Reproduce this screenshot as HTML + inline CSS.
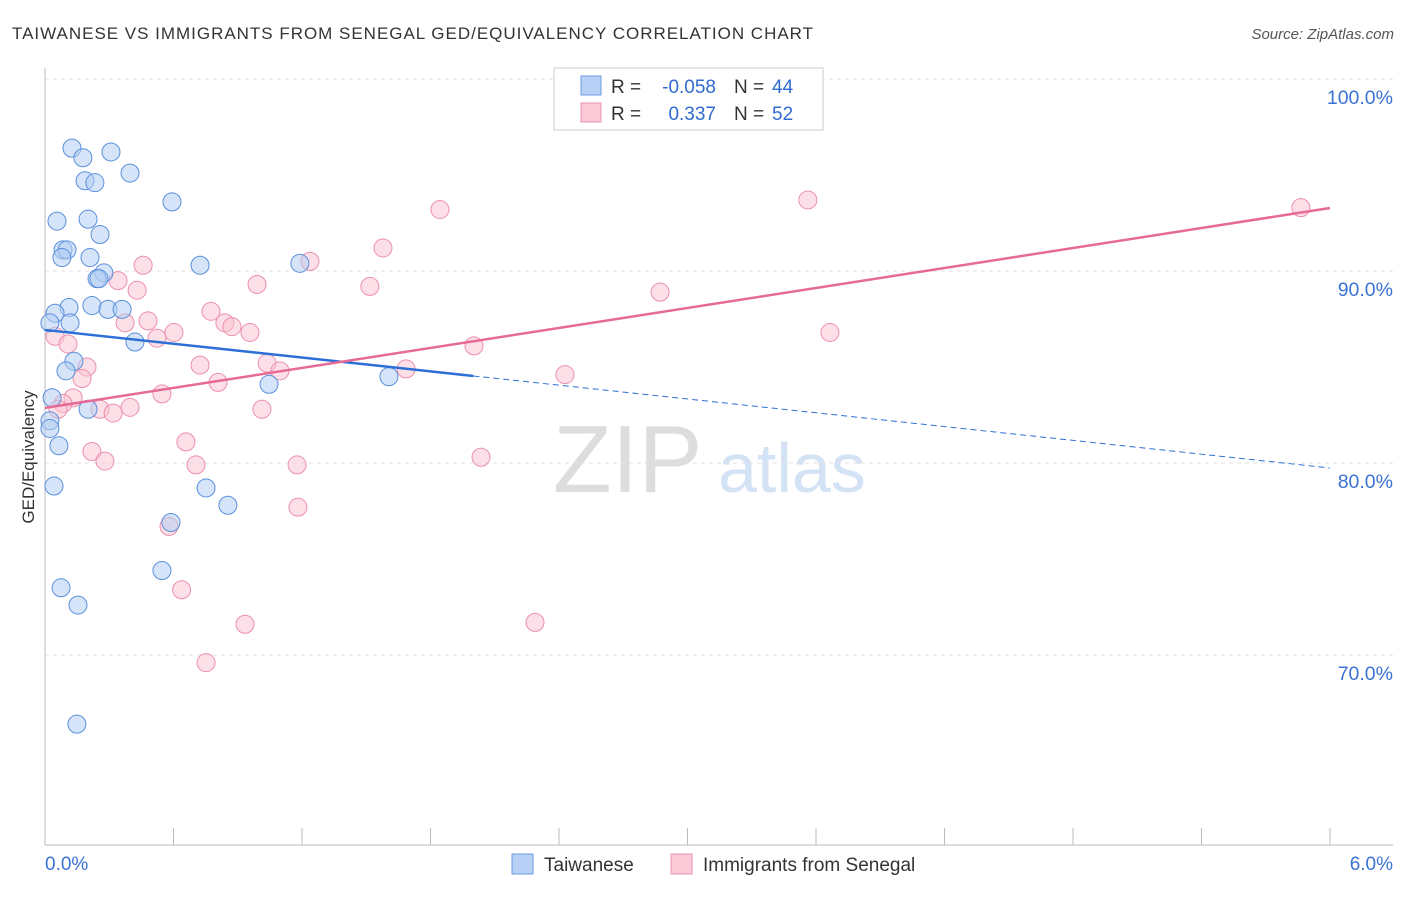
<!DOCTYPE html>
<html><head><meta charset="utf-8"><style>
body{margin:0;background:#fff;font-family:"Liberation Sans",sans-serif;}
svg text{font-family:"Liberation Sans",sans-serif;}
</style></head><body>
<svg width="1406" height="892" viewBox="0 0 1406 892">
<text x="12" y="39" font-size="17" fill="#333" textLength="801">TAIWANESE VS IMMIGRANTS FROM SENEGAL GED/EQUIVALENCY CORRELATION CHART</text>
<text x="1394" y="39" font-size="15" fill="#555" text-anchor="end" font-style="italic">Source: ZipAtlas.com</text>
<g>
<text x="553" y="492" font-size="96" fill="#ddd" font-family="Liberation Serif,serif">ZIP</text>
<text x="718" y="492" font-size="70" fill="#d4e2f6">atlas</text>
</g>
<g id="grid"></g>
<g id="axes"></g>
<text transform="translate(34,457) rotate(-90)" font-size="17" fill="#333" text-anchor="middle">GED/Equivalency</text>
<g id="pts"></g>
<g id="lines"></g>
<g>
<rect x="554" y="68" width="269" height="62" fill="#fff" stroke="#ccc"/>
<rect x="581" y="76" width="20" height="19" fill="#b7d0f5" stroke="#6b9be0"/>
<rect x="581" y="103" width="20" height="19" fill="#fbc9d8" stroke="#ee92b0"/>
<text x="611" y="93" font-size="19" fill="#333">R =</text>
<text x="716" y="93" font-size="19" fill="#2f6bd0" text-anchor="end">-0.058</text>
<text x="734" y="93" font-size="19" fill="#333">N =</text>
<text x="772" y="93" font-size="19" fill="#2f6bd0">44</text>
<text x="611" y="120" font-size="19" fill="#333">R =</text>
<text x="716" y="120" font-size="19" fill="#2f6bd0" text-anchor="end">0.337</text>
<text x="734" y="120" font-size="19" fill="#333">N =</text>
<text x="772" y="120" font-size="19" fill="#2f6bd0">52</text>
</g>
<g>
<rect x="512" y="854" width="21" height="20" fill="#b7d0f5" stroke="#6b9be0"/>
<text x="544" y="871" font-size="19" fill="#333">Taiwanese</text>
<rect x="671" y="854" width="21" height="20" fill="#fbc9d8" stroke="#ee92b0"/>
<text x="703" y="871" font-size="19" fill="#333">Immigrants from Senegal</text>
</g>
</svg>
<script>
const blueX=[.126,.177,.308,.187,.233,.397,.593,.056,.201,.257,.084,.103,.079,.210,.724,1.19,.275,.243,.252,.112,.219,.294,.360,.047,.117,.023,.420,.135,.098,1.606,1.046,.033,.201,.023,.023,.065,.042,.752,.854,.588,.546,.075,.154,.149];
const blueY=[96.4,95.9,96.2,94.7,94.6,95.1,93.6,92.6,92.7,91.9,91.1,91.1,90.7,90.7,90.3,90.4,89.9,89.6,89.6,88.1,88.2,88.0,88.0,87.8,87.3,87.3,86.3,85.3,84.8,84.5,84.1,83.4,82.8,82.2,81.8,80.9,78.8,78.7,77.8,76.9,74.4,73.5,72.6,66.4];
const pinkX=[2.703,5.864,3.562,1.844,1.578,1.237,.458,.341,.990,1.517,.430,2.872,.775,.481,.374,.840,.873,.957,.602,.523,3.665,.047,.107,2.003,.196,.724,1.037,1.097,1.686,.173,.808,2.428,.546,.131,.084,.061,.257,.397,.318,1.013,.658,.219,.280,.705,1.177,2.036,1.181,.579,.638,.934,2.288,.752];
const pinkY=[99.8,93.3,93.7,93.2,91.2,90.5,90.3,89.5,89.3,89.2,89.0,88.9,87.9,87.4,87.3,87.3,87.1,86.8,86.8,86.5,86.8,86.6,86.2,86.1,85.0,85.1,85.2,84.8,84.9,84.4,84.2,84.6,83.6,83.4,83.1,82.8,82.8,82.9,82.6,82.8,81.1,80.6,80.1,79.9,79.9,80.3,77.7,76.7,73.4,71.6,71.7,69.6];
const yTicks=[100,90,80,70];
const xTickLabels=["0.0%","6.0%"];
const blueTrend=[86.93,79.74]; const blueSolidEnd=2.0;
const pinkTrend=[82.87,93.28];
const NS="http://www.w3.org/2000/svg";
const sx=v=>45+v/6*1285, sy=v=>79+(100-v)*19.2;
function mk(t,a,p){const e=document.createElementNS(NS,t);for(const k in a)e.setAttribute(k,a[k]);p.appendChild(e);return e;}
const grid=document.getElementById('grid'),axes=document.getElementById('axes'),pts=document.getElementById('pts'),lines=document.getElementById('lines');
yTicks.forEach(v=>{
 const l=mk('line',{x1:45,x2:1393,y1:sy(v),y2:sy(v),stroke:'#e2e2e2','stroke-dasharray':'4,4'},grid);
 
 
 const t=mk('text',{x:1393,y:sy(v)+25,'font-size':19.5,fill:'#3b73d4','text-anchor':'end'},grid);
 t.textContent=v.toFixed(1)+'%';
 
 
});
mk('line',{x1:45,x2:45,y1:68,y2:845,stroke:'#bbb'},axes);
mk('line',{x1:45,x2:1393,y1:845,y2:845,stroke:'#bbb'},axes);
for(let i=0;i<=10;i++){const t=mk('line',{x1:sx(i*0.6),x2:sx(i*0.6),y1:828,y2:845,stroke:'#bbb'},axes);
 
 }
[[0,'start',45],[6,'end',1393]].forEach((d,i)=>{const t=mk('text',{x:d[2],y:870,'font-size':19,fill:'#3b73d4','text-anchor':d[1]},axes);t.textContent=xTickLabels[i];
 
 });
function dots(X,Y,fill,stroke,name){X.forEach((x,i)=>{const c=mk('circle',{cx:sx(x),cy:sy(Y[i]),r:9,fill:fill,'fill-opacity':0.55,stroke:stroke,'stroke-width':1},pts);
 
 });}
dots(pinkX,pinkY,'#f9c4d4','#ec8fae','senegal-point');
dots(blueX,blueY,'#b3cdf3','#5a8fdc','taiwanese-point');
const by=x=>blueTrend[0]+(blueTrend[1]-blueTrend[0])*x/6;
let l1=mk('line',{x1:sx(0),y1:sy(by(0)),x2:sx(blueSolidEnd),y2:sy(by(blueSolidEnd)),stroke:'#2d6fd6','stroke-width':2.5},lines);


let l2=mk('line',{x1:sx(blueSolidEnd),y1:sy(by(blueSolidEnd)),x2:sx(6),y2:sy(by(6)),stroke:'#2d6fd6','stroke-width':1,'stroke-dasharray':'6,4'},lines);


let l3=mk('line',{x1:sx(0),y1:sy(pinkTrend[0]),x2:sx(6),y2:sy(pinkTrend[1]),stroke:'#e66a95','stroke-width':2.5},lines);


</script>
</body></html>
